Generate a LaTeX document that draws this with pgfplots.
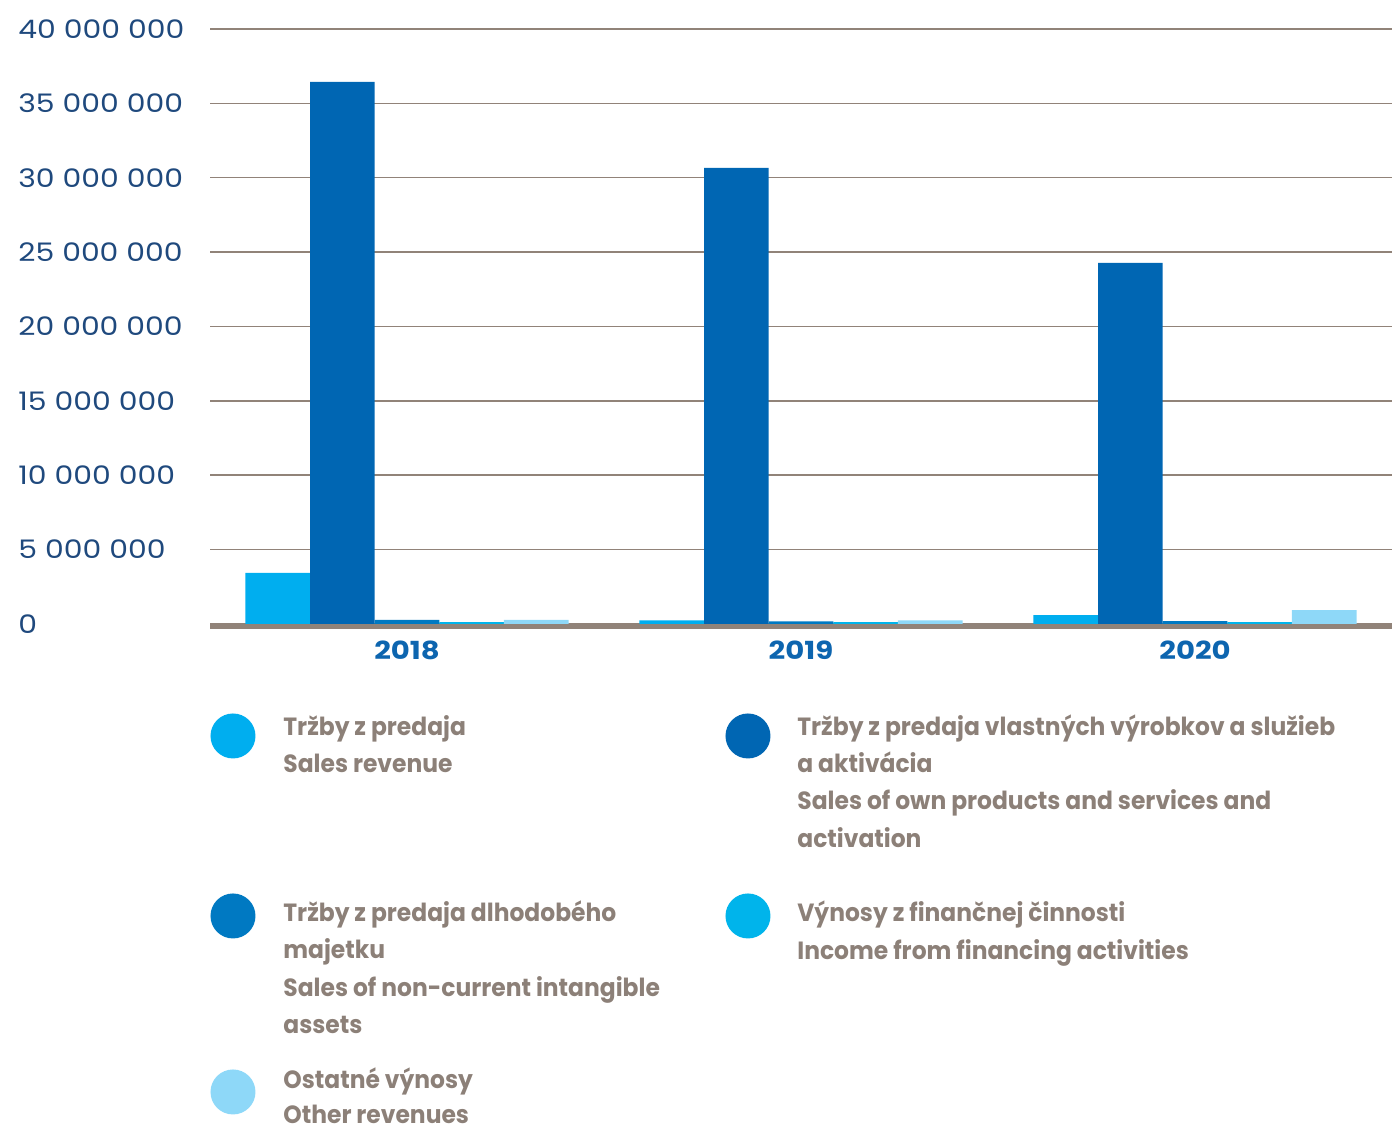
\documentclass[border=0pt]{standalone}
\usepackage{fontspec}
\setmainfont{Poppins}
\newfontfamily\tickfont{Poppins}[FakeStretch=1.17]
\newfontfamily\legfont{Poppins}[FakeStretch=0.94]
\usepackage{pgfplots}
\pgfplotsset{compat=1.18}

\definecolor{cOne}{HTML}{00AEEF}
\definecolor{cTwo}{HTML}{0066B3}
\definecolor{cThree}{HTML}{0079C2}
\definecolor{cFour}{HTML}{00B4EB}
\definecolor{cFive}{HTML}{8ED8F8}
\definecolor{gridc}{HTML}{918379}
\definecolor{textc}{HTML}{8C8078}
\definecolor{tickc}{HTML}{1F497D}
\definecolor{yearc}{HTML}{0D65AF}

\begin{document}
\begin{tikzpicture}[
    legtext/.style={anchor=base west, inner sep=0pt, text=textc,
                    font=\legfont\bfseries\fontsize{12.5}{15}\selectfont}]
\useasboundingbox (0,0) rectangle (696bp,565bp);
\begin{axis}[
    at={(105bp,253bp)}, anchor=south west,
    scale only axis, width=591bp, height=297.5bp,
    ybar=0pt, bar width=0.164,
    xmin=-0.5, xmax=2.5, ymin=0, ymax=40000000,
    xtick={0,1,2}, xticklabels={2018,2019,2020},
    ytick={0,5000000,10000000,15000000,20000000,25000000,30000000,35000000,40000000},
    yticklabels={0,5 000 000,10 000 000,15 000 000,20 000 000,25 000 000,30 000 000,35 000 000,40 000 000},
    scaled y ticks=false,
    ymajorgrids, grid style={line width=0.75bp, draw=gridc},
    major tick length=0pt,
    axis x line*=bottom, axis y line*=left,
    y axis line style={draw=none},
    x axis line style={-, line width=2.5bp, draw=gridc, yshift=-1.25bp},
    yticklabel style={anchor=west, xshift=-96bp, inner xsep=0pt, text=tickc,
                      font=\tickfont\fontsize{12.8}{14}\selectfont},
    xticklabel style={text=yearc, font=\tickfont\bfseries\fontsize{12.5}{14}\selectfont, yshift=-5bp},
]
\addplot[fill=cOne, draw=none] coordinates {(0,3430000) (1,250000) (2,600000)};
\addplot[fill=cTwo, draw=none] coordinates {(0,36440000) (1,30660000) (2,24270000)};
\addplot[fill=cThree, draw=none] coordinates {(0,270000) (1,180000) (2,200000)};
\addplot[fill=cFour, draw=none] coordinates {(0,120000) (1,120000) (2,130000)};
\addplot[fill=cFive, draw=none] coordinates {(0,270000) (1,250000) (2,940000)};
\end{axis}

% legend, laid out in reference pixel coordinates
\begin{scope}[shift={(0bp,565bp)}, x=0.5bp, y=-0.5bp]
\fill[cOne] (233,736) circle[radius=11.25bp];
\node[legtext] at (283,736) {Tržby z predaja};
\node[legtext] at (283,773) {Sales revenue};

\fill[cTwo] (748,736) circle[radius=11.25bp];
\node[legtext] at (797,736) {Tržby z predaja vlastných výrobkov a služieb};
\node[legtext] at (797,773) {a aktivácia};
\node[legtext] at (797,810) {Sales of own products and services and};
\node[legtext] at (797,848) {activation};

\fill[cThree] (233,916) circle[radius=11.25bp];
\node[legtext] at (283,922) {Tržby z predaja dlhodobého};
\node[legtext] at (283,959) {majetku};
\node[legtext] at (283,997) {Sales of non-current intangible};
\node[legtext] at (283,1034) {assets};

\fill[cFour] (748,916) circle[radius=11.25bp];
\node[legtext] at (797,922) {Výnosy z finančnej činnosti};
\node[legtext] at (797,960) {Income from financing activities};

\fill[cFive] (233,1092) circle[radius=11.25bp];
\node[legtext] at (283,1089) {Ostatné výnosy};
\node[legtext, text depth=0pt] at (283,1124) {Other revenues};
\end{scope}
\end{tikzpicture}
\end{document}
